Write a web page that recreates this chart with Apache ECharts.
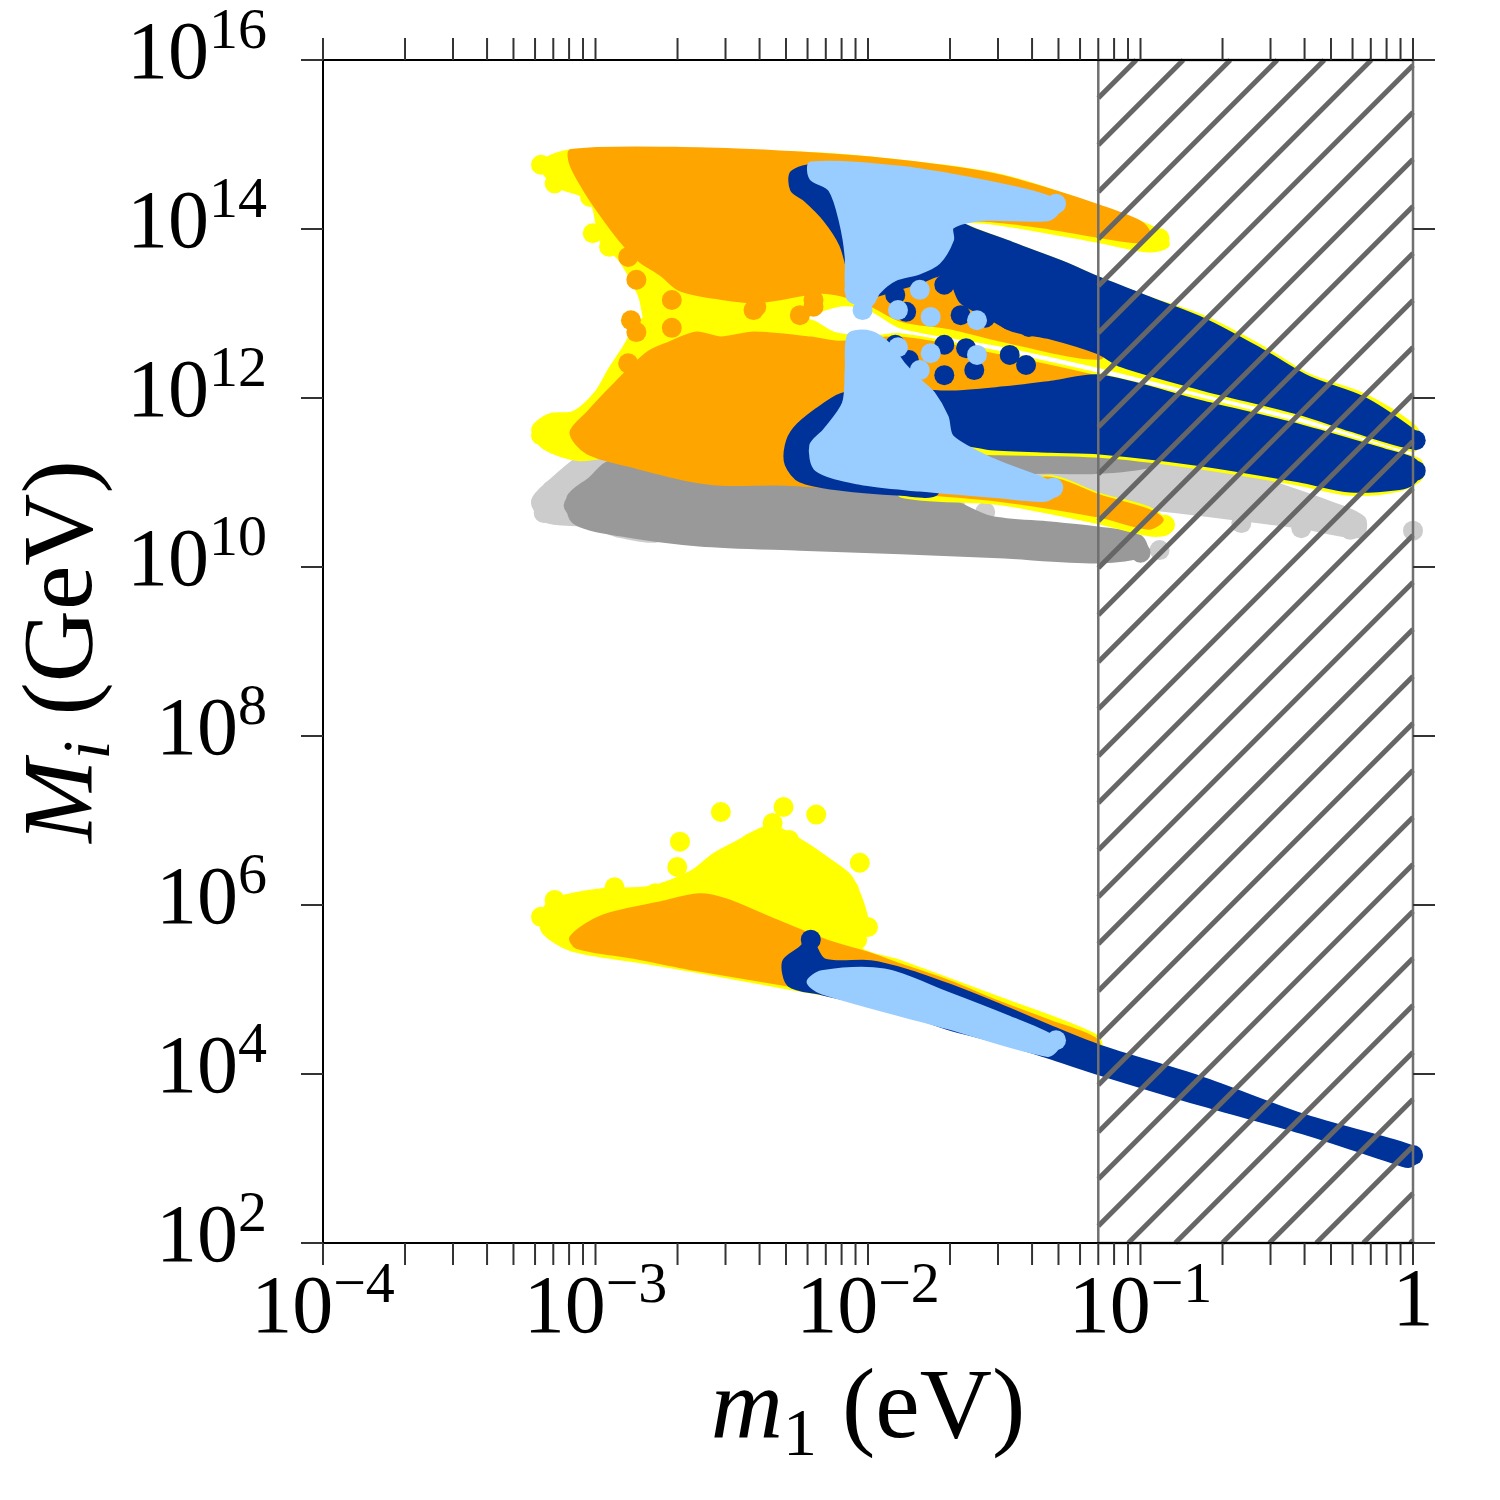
<!DOCTYPE html>
<html><head><meta charset="utf-8">
<script src="https://cdn.jsdelivr.net/npm/echarts@6/dist/echarts.min.js"></script>
<style>html,body{margin:0;padding:0;background:#fff}#chart{width:1500px;height:1500px}</style>
</head><body><div id="chart"></div>
<script>
// Every pair below is [log10(m1 / eV), log10(M_i / GeV)].
// "Areas" are outlines of the dense point clouds, "Points" are single scattered points.
const lightGrayAreas = [
  [[-1.68,11.41],[-1.15,11.50],[-0.86,11.36],[-0.56,11.05],[-0.30,10.76],[-0.18,10.58],[-0.19,10.36],[-0.41,10.47],[-0.63,10.56],[-0.86,10.65],[-1.08,10.73],[-1.33,10.85],[-1.66,11.09]],
  [[-3.23,10.79],[-3.17,11.01],[-3.03,11.36],[-2.94,11.36],[-2.92,11.15],[-2.80,11.03],[-2.76,10.34],[-2.91,10.36],[-3.02,10.48],[-3.19,10.55]]
];
const lightGrayPoints = [[0.00,10.43],[-0.93,10.20],[-0.23,10.44],[-0.41,10.46],[-0.63,10.52],[-3.20,10.76],[-3.16,10.91],[-3.19,10.64],[-2.98,11.24],[-3.02,11.33],[-1.68,10.73],[-1.57,10.65]];

const grayAreas = [
  [[-3.10,10.83],[-3.02,11.05],[-2.95,11.24],[-2.80,11.15],[-2.43,11.09],[-2.07,11.03],[-1.70,10.79],[-1.55,10.59],[-1.33,10.52],[-1.15,10.46],[-1.00,10.36],[-0.98,10.15],[-1.15,10.06],[-1.52,10.12],[-1.88,10.17],[-2.25,10.21],[-2.62,10.26],[-2.91,10.38],[-3.08,10.53]],
  [[-1.61,11.38],[-1.33,11.44],[-1.15,11.44],[-0.97,11.36],[-0.95,11.21],[-1.15,11.12],[-1.33,11.12],[-1.57,11.15]]
];
const grayPoints = [[-3.08,10.73],[-1.52,11.27],[-0.97,11.30],[-1.00,10.17]];

const yellowAreas = [
  [[-3.20,14.78],[-3.08,14.93],[-2.25,14.90],[-1.99,14.84],[-1.52,14.64],[-1.15,14.26],[-0.92,13.96],[-0.90,13.80],[-0.97,13.74],[-1.15,13.85],[-1.52,14.06],[-1.66,14.08],[-1.47,13.83],[-1.28,13.60],[-1.16,13.43],[-0.98,13.20],[-0.76,12.95],[-0.54,12.58],[-0.38,12.27],[-0.18,12.04],[0.00,11.68],[0.03,11.50],[0.00,11.38],[-0.23,11.60],[-0.41,11.78],[-0.78,12.07],[-1.15,12.37],[-1.52,12.63],[-1.88,12.84],[-1.99,13.04],[-2.10,13.10],[-2.25,12.95],[-2.40,12.85],[-2.62,12.78],[-2.80,12.83],[-2.84,13.22],[-2.91,13.63],[-2.98,13.87],[-3.02,14.34],[-3.15,14.52]],
  [[-3.23,11.64],[-3.17,11.80],[-3.08,11.83],[-3.00,12.06],[-2.95,12.33],[-2.89,12.63],[-2.84,12.90],[-2.73,13.08],[-2.54,13.12],[-2.32,13.00],[-2.20,12.90],[-2.12,12.76],[-1.99,12.72],[-1.88,12.75],[-1.52,12.54],[-1.15,12.28],[-0.78,11.99],[-0.41,11.69],[0.00,11.30],[0.03,11.24],[0.03,11.05],[-0.05,10.91],[-0.23,10.86],[-0.42,10.98],[-0.80,11.18],[-1.15,11.31],[-1.52,11.34],[-1.88,11.36],[-2.25,11.33],[-2.62,11.33],[-2.91,11.33],[-3.06,11.27],[-3.19,11.41]],
  [[-1.88,11.05],[-1.52,10.95],[-1.33,11.07],[-1.15,10.86],[-0.97,10.70],[-0.90,10.53],[-0.90,10.40],[-0.97,10.38],[-1.15,10.52],[-1.52,10.75],[-1.88,10.84]],
  [[-3.20,5.86],[-3.16,6.06],[-2.98,6.18],[-2.80,6.21],[-2.65,6.39],[-2.57,6.59],[-2.49,6.73],[-2.36,6.93],[-2.25,6.77],[-2.14,6.53],[-2.06,6.32],[-2.00,5.76],[-2.03,5.49],[-1.88,5.33],[-1.52,4.90],[-1.16,4.45],[-1.15,4.28],[-1.52,4.40],[-1.88,4.78],[-2.25,4.99],[-2.62,5.21],[-2.84,5.33],[-3.09,5.47],[-3.19,5.67]]
];
const yellowPoints = [[-3.20,14.76],[-3.15,14.54],[-3.02,14.38],[-3.01,13.95],[-2.95,13.79],[-0.93,13.89],[-3.20,11.56],[-0.91,10.50],
  [-2.54,7.10],[-2.31,7.16],[-2.19,7.07],[-2.69,6.75],[-2.70,6.45],[-2.03,6.50],[-2.93,6.21],[-2.78,6.14],[-2.35,6.97],[-3.15,6.06],[-3.20,5.86],[-2.29,6.77],[-2.43,6.73],[-2.07,6.18],[-2.00,5.74],[-2.04,5.59]];

const orangeAreas = [
  [[-3.09,14.93],[-2.62,14.95],[-2.25,14.90],[-1.99,14.84],[-1.70,14.73],[-1.52,14.63],[-1.33,14.46],[-1.15,14.27],[-1.00,14.08],[-0.97,13.96],[-1.00,13.85],[-1.15,13.91],[-1.33,14.01],[-1.52,14.09],[-1.66,14.08],[-1.74,13.75],[-1.68,13.34],[-1.52,13.16],[-1.33,12.95],[-1.15,12.75],[-1.15,12.47],[-1.52,12.69],[-1.70,12.83],[-1.88,12.92],[-1.99,13.10],[-2.10,13.22],[-2.18,13.25],[-2.40,13.14],[-2.54,13.18],[-2.69,13.28],[-2.76,13.46],[-2.84,13.63],[-2.91,13.87],[-2.98,14.17],[-3.04,14.46],[-3.09,14.76]],
  [[-3.09,11.59],[-3.03,11.82],[-2.94,12.13],[-2.81,12.53],[-2.73,12.65],[-2.63,12.77],[-2.54,12.71],[-2.42,12.77],[-2.21,12.71],[-2.10,12.66],[-1.88,12.71],[-1.52,12.50],[-1.15,12.24],[-1.00,12.07],[-1.15,11.98],[-1.52,11.95],[-1.70,11.74],[-1.74,11.15],[-1.52,11.00],[-1.33,11.05],[-1.15,10.84],[-0.97,10.67],[-0.92,10.56],[-0.97,10.46],[-1.15,10.60],[-1.52,10.79],[-1.88,10.89],[-2.07,10.93],[-2.30,10.98],[-2.54,10.98],[-2.66,11.03],[-2.85,11.18],[-3.03,11.35]],
  [[-3.09,5.62],[-2.98,5.86],[-2.77,6.02],[-2.62,6.12],[-2.52,6.06],[-2.37,5.86],[-2.25,5.70],[-2.13,5.55],[-2.00,5.43],[-1.88,5.29],[-1.70,5.09],[-1.52,4.85],[-1.33,4.62],[-1.16,4.40],[-1.16,4.19],[-1.52,4.46],[-1.88,4.82],[-2.25,5.03],[-2.62,5.23],[-2.86,5.38],[-3.07,5.50]]
];
const orangePoints = [[-2.88,13.67],[-2.85,13.40],[-2.72,13.16],[-2.41,13.08],[-2.87,12.92],[-2.72,12.83],[-2.42,13.04],[-2.20,13.08],[-2.20,13.16],[-2.88,12.41],[-2.85,12.78],[-2.25,12.98]];

const darkBlueAreas = [
  [[-2.28,14.67],[-2.19,14.76],[-1.88,14.70],[-1.52,14.48],[-1.33,14.31],[-1.35,14.15],[-1.52,14.14],[-1.66,14.08],[-1.47,13.83],[-1.28,13.60],[-1.16,13.43],[-0.98,13.20],[-0.76,12.92],[-0.54,12.54],[-0.38,12.24],[-0.18,12.00],[0.00,11.62],[0.03,11.50],[0.00,11.41],[-0.23,11.62],[-0.41,11.81],[-0.78,12.11],[-1.07,12.38],[-1.16,12.54],[-1.33,12.71],[-1.47,12.80],[-1.57,12.98],[-1.66,13.14],[-1.71,13.46],[-1.81,13.37],[-1.96,13.22],[-2.05,13.16],[-2.07,13.46],[-2.10,13.81],[-2.16,14.11],[-2.23,14.34],[-2.28,14.46]],
  [[-2.30,11.44],[-2.27,11.64],[-2.19,11.86],[-2.10,12.04],[-1.96,12.12],[-1.71,12.07],[-1.50,12.12],[-1.32,12.19],[-1.15,12.26],[-0.78,11.96],[-0.41,11.67],[-0.10,11.38],[0.00,11.28],[0.03,11.15],[0.00,10.99],[-0.05,10.93],[-0.23,10.90],[-0.42,11.02],[-0.80,11.22],[-1.15,11.35],[-1.33,11.37],[-1.55,11.40],[-1.68,11.44],[-1.74,11.15],[-1.75,10.86],[-1.88,10.86],[-2.10,10.92],[-2.25,11.02],[-2.30,11.21]],
  [[-2.31,5.33],[-2.25,5.49],[-2.21,5.59],[-2.16,5.35],[-1.99,5.33],[-1.86,5.23],[-1.70,5.05],[-1.52,4.82],[-1.33,4.56],[-1.15,4.33],[-0.78,3.96],[-0.39,3.50],[-0.01,3.15],[0.03,3.03],[-0.01,2.91],[-0.04,2.92],[-0.39,3.29],[-0.78,3.64],[-1.15,4.00],[-1.34,4.20],[-1.52,4.38],[-1.71,4.54],[-1.88,4.73],[-2.17,4.95],[-2.29,5.05]]
];
const darkBluePoints = [[-1.90,13.22],[-1.86,13.02],[-1.72,13.34],[-1.66,12.98],[-1.57,12.95],[-1.48,12.92],[-1.41,12.84],
  [-1.90,12.63],[-1.85,12.45],[-1.72,12.63],[-1.64,12.59],[-1.72,12.27],[-1.61,12.33],[-1.48,12.51],[-1.42,12.39],[-2.21,5.59],[0.01,11.50],[0.01,11.14],[0.00,3.04]];

const lightBlueAreas = [
  [[-2.21,14.78],[-1.88,14.73],[-1.52,14.53],[-1.33,14.37],[-1.30,14.22],[-1.34,14.11],[-1.59,14.11],[-1.69,14.02],[-1.69,13.87],[-1.74,13.60],[-1.81,13.48],[-1.90,13.40],[-1.96,13.25],[-1.99,13.10],[-2.07,13.16],[-2.08,13.36],[-2.08,13.67],[-2.10,14.07],[-2.14,14.46],[-2.21,14.60]],
  [[-2.07,12.75],[-1.99,12.78],[-1.92,12.63],[-1.87,12.41],[-1.81,12.21],[-1.76,12.06],[-1.71,11.78],[-1.69,11.54],[-1.54,11.27],[-1.32,10.99],[-1.30,10.89],[-1.35,10.79],[-1.52,10.83],[-1.81,10.91],[-2.03,10.99],[-2.19,11.15],[-2.21,11.44],[-2.16,11.62],[-2.09,11.94],[-2.08,12.33]],
  [[-2.22,5.09],[-2.17,5.21],[-1.94,5.23],[-1.71,4.96],[-1.48,4.67],[-1.33,4.46],[-1.30,4.34],[-1.34,4.22],[-1.71,4.55],[-2.17,4.96]]
];
const lightBluePoints = [[-2.05,13.28],[-1.89,13.04],[-1.81,13.28],[-1.77,12.96],[-1.60,12.92],[-2.02,13.04],[-1.89,12.60],[-1.77,12.53],[-1.60,12.51],[-1.81,12.33],[-1.31,14.30],[-1.32,10.94],[-1.31,4.40]];

// excluded m1 range (hatched), axis ranges and ticks
const excludedM1 = [0.07, 1];
const xRange = [1e-4, 1];
const yRange = [1e2, 1e16];
const xMajorTicks = [1e-4, 1e-3, 1e-2, 1e-1, 1];
const xMinorFactors = [2, 3, 4, 5, 6, 7, 8, 9];
const yTicks = [1e2, 1e4, 1e6, 1e8, 1e10, 1e12, 1e14, 1e16];
const yTickExponents = [2, 4, 6, 8, 10, 12, 14, 16];

const xAllTicks = [];
xMajorTicks.forEach((d, i) => { xAllTicks.push(d); if (i < xMajorTicks.length - 1) xMinorFactors.forEach(f => xAllTicks.push(f * d)); });

const FONT = "'Liberation Serif', 'DejaVu Serif', serif";
const toVal = p => [Math.pow(10, p[0]), Math.pow(10, p[1])];

const richTick = {
  b: {fontSize: 82, lineHeight: 104, fontFamily: FONT, fill: '#000', color: '#000'},
  s: {fontSize: 58, verticalAlign: 'top', fontFamily: FONT, fill: '#000', color: '#000'},
  one: {fontSize: 82, lineHeight: 90, fontFamily: FONT, fill: '#000', color: '#000'}
};
const richName = {
  i: {fontSize: 100, lineHeight: 120, fontStyle: 'italic', fontFamily: FONT, color: '#000'},
  sub: {fontSize: 68, verticalAlign: 'bottom', fontFamily: FONT, color: '#000'},
  subi: {fontSize: 68, verticalAlign: 'bottom', fontStyle: 'italic', fontFamily: FONT, color: '#000'},
  n: {fontSize: 100, lineHeight: 120, fontFamily: FONT, color: '#000'}
};

const layers = [
  {name: 'light gray', color: '#cccccc', areas: lightGrayAreas, points: lightGrayPoints},
  {name: 'gray', color: '#999999', areas: grayAreas, points: grayPoints},
  {name: 'yellow', color: '#ffff00', areas: yellowAreas, points: yellowPoints},
  {name: 'orange', color: '#ffa500', areas: orangeAreas, points: orangePoints},
  {name: 'dark blue', color: '#003399', areas: darkBlueAreas, points: darkBluePoints},
  {name: 'light blue', color: '#99ccff', areas: lightBlueAreas, points: lightBluePoints}
];

const series = [];
layers.forEach((L, k) => {
  series.push({
    type: 'custom', name: L.name, coordinateSystem: 'cartesian2d', z: 2 + k, clip: false, silent: true,
    dimensions: ['x', 'y', 'idx'],
    encode: {x: 0, y: 1},
    data: L.areas.map((a, i) => toVal(a[0]).concat([i])),
    renderItem: (params, api) => {
      const area = L.areas[api.value(2)];
      return {type: 'polygon', shape: {points: area.map(p => api.coord(toVal(p))), smooth: 0.3},
        style: {fill: L.color, stroke: L.color, lineWidth: 3, lineJoin: 'round'}};
    }
  });
  series.push({
    type: 'scatter', name: L.name, z: 2 + k, symbol: 'circle', symbolSize: 20, clip: false, silent: true,
    itemStyle: {color: L.color, opacity: 1},
    data: L.points.map(toVal)
  });
});

// hatched excluded region
series.push({
  type: 'custom', name: 'excluded', coordinateSystem: 'cartesian2d', z: 20, clip: false, silent: true,
  data: [[excludedM1[0], yRange[1]]],
  renderItem: (params, api) => {
    const a = api.coord([excludedM1[0], yRange[1]]);
    const b = api.coord([excludedM1[1], yRange[0]]);
    const x0 = a[0], y0 = a[1], x1 = b[0], y1 = b[1];
    const step = 47, phase = 38;
    const children = [];
    for (let c = x0 + y0 + phase; c < x1 + y1; c += step) {
      const xa = Math.max(x0, c - y1), xb = Math.min(x1, c - y0);
      if (xb > xa) children.push({type: 'line', shape: {x1: xa, y1: c - xa, x2: xb, y2: c - xb},
        style: {stroke: '#666666', lineWidth: 5, lineCap: 'butt'}});
    }
    children.push({type: 'rect', shape: {x: x0, y: y0, width: x1 - x0, height: y1 - y0},
      style: {fill: 'none', stroke: '#707070', lineWidth: 2.5}});
    return {type: 'group', children};
  }
});

// frame lines, ticks and y tick labels
series.push({
  type: 'custom', name: 'frame', coordinateSystem: 'cartesian2d', z: 30, clip: false, silent: true,
  data: [[1e-2, 1e9]],
  renderItem: (params, api) => {
    const bl = api.coord([xRange[0], yRange[0]]);
    const tr = api.coord([xRange[1], yRange[1]]);
    const L = bl[0], B = bl[1], R = tr[0], T = tr[1];
    const ext = 21, tk = 22;
    const axisStyle = {stroke: '#000', lineWidth: 2};
    const tickStyle = {stroke: '#333', lineWidth: 2};
    const ch = [];
    const ln = (xa, ya, xb, yb, st) => ch.push({type: 'line', shape: {x1: xa, y1: ya, x2: xb, y2: yb}, style: st});
    ln(L - ext, B, R + ext, B, axisStyle);
    ln(L - ext, T, R + ext, T, axisStyle);
    ln(L, T, L, B, axisStyle);
    xAllTicks.forEach(v => {
      const px = api.coord([v, yRange[0]])[0];
      ln(px, B, px, B + tk, tickStyle);
      ln(px, T, px, T - tk, tickStyle);
    });
    yTicks.forEach((v, i) => {
      const py = api.coord([xRange[0], v])[1];
      ln(L, py, L - tk, py, tickStyle);
      ln(R, py, R + tk, py, tickStyle);
      ch.push({type: 'text', x: L - 56, y: py - 4,
        style: {text: '{b|10}{s|' + yTickExponents[i] + '}', rich: richTick, align: 'right', verticalAlign: 'middle', fill: '#000'}});
    });
    return {type: 'group', children: ch};
  }
});

const option = {
  animation: false,
  backgroundColor: '#ffffff',
  textStyle: {fontFamily: FONT},
  grid: {left: 323, right: 87, top: 60, bottom: 257, containLabel: false},
  xAxis: {
    type: 'log', logBase: 10, min: xRange[0], max: xRange[1], splitNumber: 4,
    axisLine: {show: false}, axisTick: {show: false}, splitLine: {show: false}, minorTick: {show: false},
    axisLabel: {margin: 15, hideOverlap: false, showMinLabel: true, showMaxLabel: true, rich: richTick, formatter: v => {
      const e = Math.round(Math.log10(v));
      return e === 0 ? '{one|1}' : '{b|10}{s|\u2212' + Math.abs(e) + '}';
    }},
    name: '{i|m}{sub|1}{n| (eV)}', nameLocation: 'middle', nameGap: 108,
    nameTextStyle: {rich: richName}
  },
  yAxis: {
    type: 'log', logBase: 10, min: yRange[0], max: yRange[1],
    axisLine: {show: false}, axisTick: {show: false}, splitLine: {show: false}, minorTick: {show: false},
    axisLabel: {show: false},
    name: '{i|M}{subi|i}{n| (GeV)}', nameLocation: 'middle', nameGap: 198, nameRotate: 90,
    nameTextStyle: {rich: richName}
  },
  series
};

const chart = echarts.init(document.getElementById('chart'), null, {renderer: 'canvas'});
chart.setOption(option);
</script>
</body></html>
